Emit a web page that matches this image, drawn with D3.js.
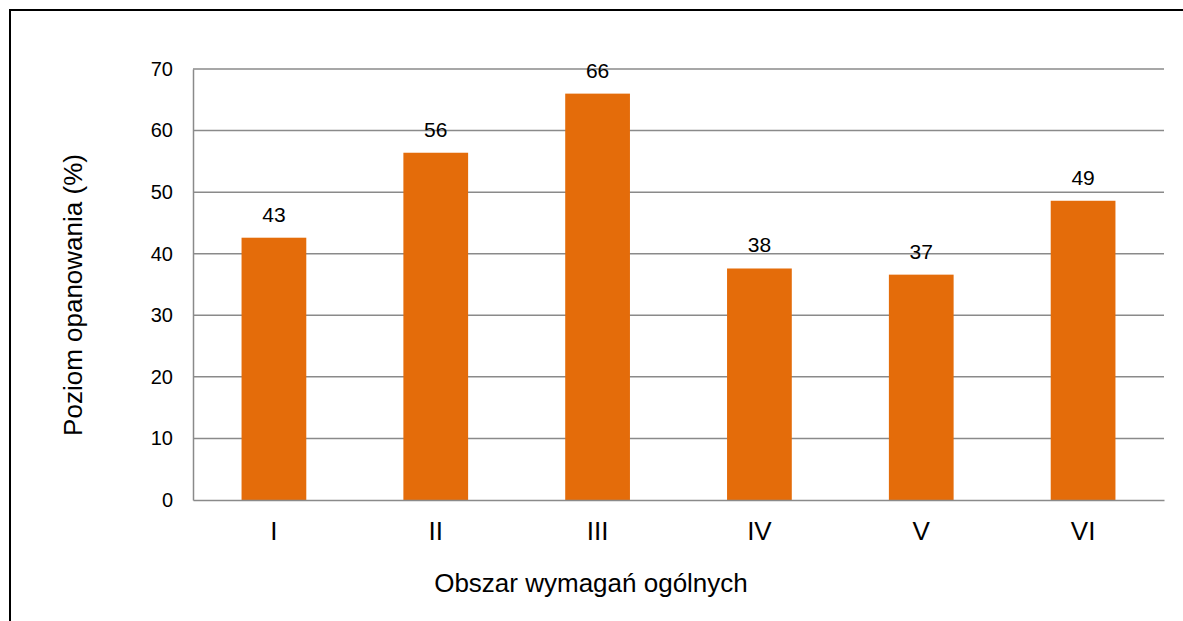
<!DOCTYPE html>
<html>
<head>
<meta charset="utf-8">
<script src="https://cdn.jsdelivr.net/npm/d3@7"></script>
<style>
  html, body { margin: 0; padding: 0; background: #fff; }
  svg { display: block; font-family: "Liberation Sans", Arial, sans-serif; }
</style>
</head>
<body>
<svg id="chart" width="1183" height="621"></svg>
<script>
const categories = ["I", "II", "III", "IV", "V", "VI"];
const values = [42.6, 56.4, 66.0, 37.6, 36.6, 48.6];
const labels = ["43", "56", "66", "38", "37", "49"];
const yTicks = [0, 10, 20, 30, 40, 50, 60, 70];
const yTitle = "Poziom opanowania (%)";
const xTitle = "Obszar wymagań ogólnych";

const svg = d3.select("#chart");
const plot = { left: 193, right: 1164, top: 69, bottom: 500 };

// outer frame
svg.append("rect")
  .attr("x", 10).attr("y", 10)
  .attr("width", 1300).attr("height", 800)
  .attr("fill", "none").attr("stroke", "#000").attr("stroke-width", 2);

const x = d3.scaleBand()
  .domain(categories)
  .range([plot.left, plot.right])
  .paddingInner(0.6)
  .paddingOuter(0.3);

const y = d3.scaleLinear().domain([0, 70]).range([plot.bottom, plot.top]);

// gridlines
svg.append("g")
  .selectAll("line")
  .data(yTicks.filter(d => d > 0))
  .join("line")
  .attr("x1", plot.left).attr("x2", plot.right)
  .attr("y1", d => y(d)).attr("y2", d => y(d))
  .attr("stroke", "#8a8a8a").attr("stroke-width", 1.5);

// y axis
const yAxis = svg.append("g")
  .attr("transform", `translate(${plot.left},0)`)
  .call(d3.axisLeft(y).tickValues(yTicks).tickSize(0).tickPadding(20).tickFormat(d3.format("d")));
yAxis.attr("font-size", null).attr("font-family", null);
yAxis.select(".domain").attr("stroke", "#8a8a8a").attr("stroke-width", 1.5);
yAxis.selectAll("text")
  .style("font-size", "20px").attr("fill", "#000")
  .style("font-family", "'Liberation Sans', Arial, sans-serif");

// bars
svg.append("g")
  .selectAll("rect")
  .data(values)
  .join("rect")
  .attr("x", (d, i) => x(categories[i]))
  .attr("width", x.bandwidth())
  .attr("y", d => y(d))
  .attr("height", d => y(0) - y(d))
  .attr("fill", "#E46C0A");

// x axis
const xAxis = svg.append("g")
  .attr("transform", `translate(0,${plot.bottom})`)
  .call(d3.axisBottom(x).tickSize(0).tickPadding(22).tickSizeOuter(0));
xAxis.attr("font-size", null).attr("font-family", null);
xAxis.select(".domain").attr("stroke", "#8a8a8a").attr("stroke-width", 1.5);
xAxis.selectAll("text")
  .style("font-size", "26px").attr("fill", "#000")
  .style("font-family", "'Liberation Sans', Arial, sans-serif");

// data labels
svg.append("g")
  .selectAll("text")
  .data(values)
  .join("text")
  .attr("x", (d, i) => x(categories[i]) + x.bandwidth() / 2)
  .attr("y", d => y(d) - 16)
  .attr("text-anchor", "middle")
  .style("font-size", "21px")
  .attr("fill", "#000")
  .text((d, i) => labels[i]);

// axis titles
svg.append("text")
  .attr("transform", "translate(82,295) rotate(-90)")
  .attr("text-anchor", "middle")
  .style("font-size", "26px")
  .attr("fill", "#000")
  .text(yTitle);

svg.append("text")
  .attr("x", 591)
  .attr("y", 592)
  .attr("text-anchor", "middle")
  .style("font-size", "26px")
  .attr("fill", "#000")
  .text(xTitle);
</script>
</body>
</html>
